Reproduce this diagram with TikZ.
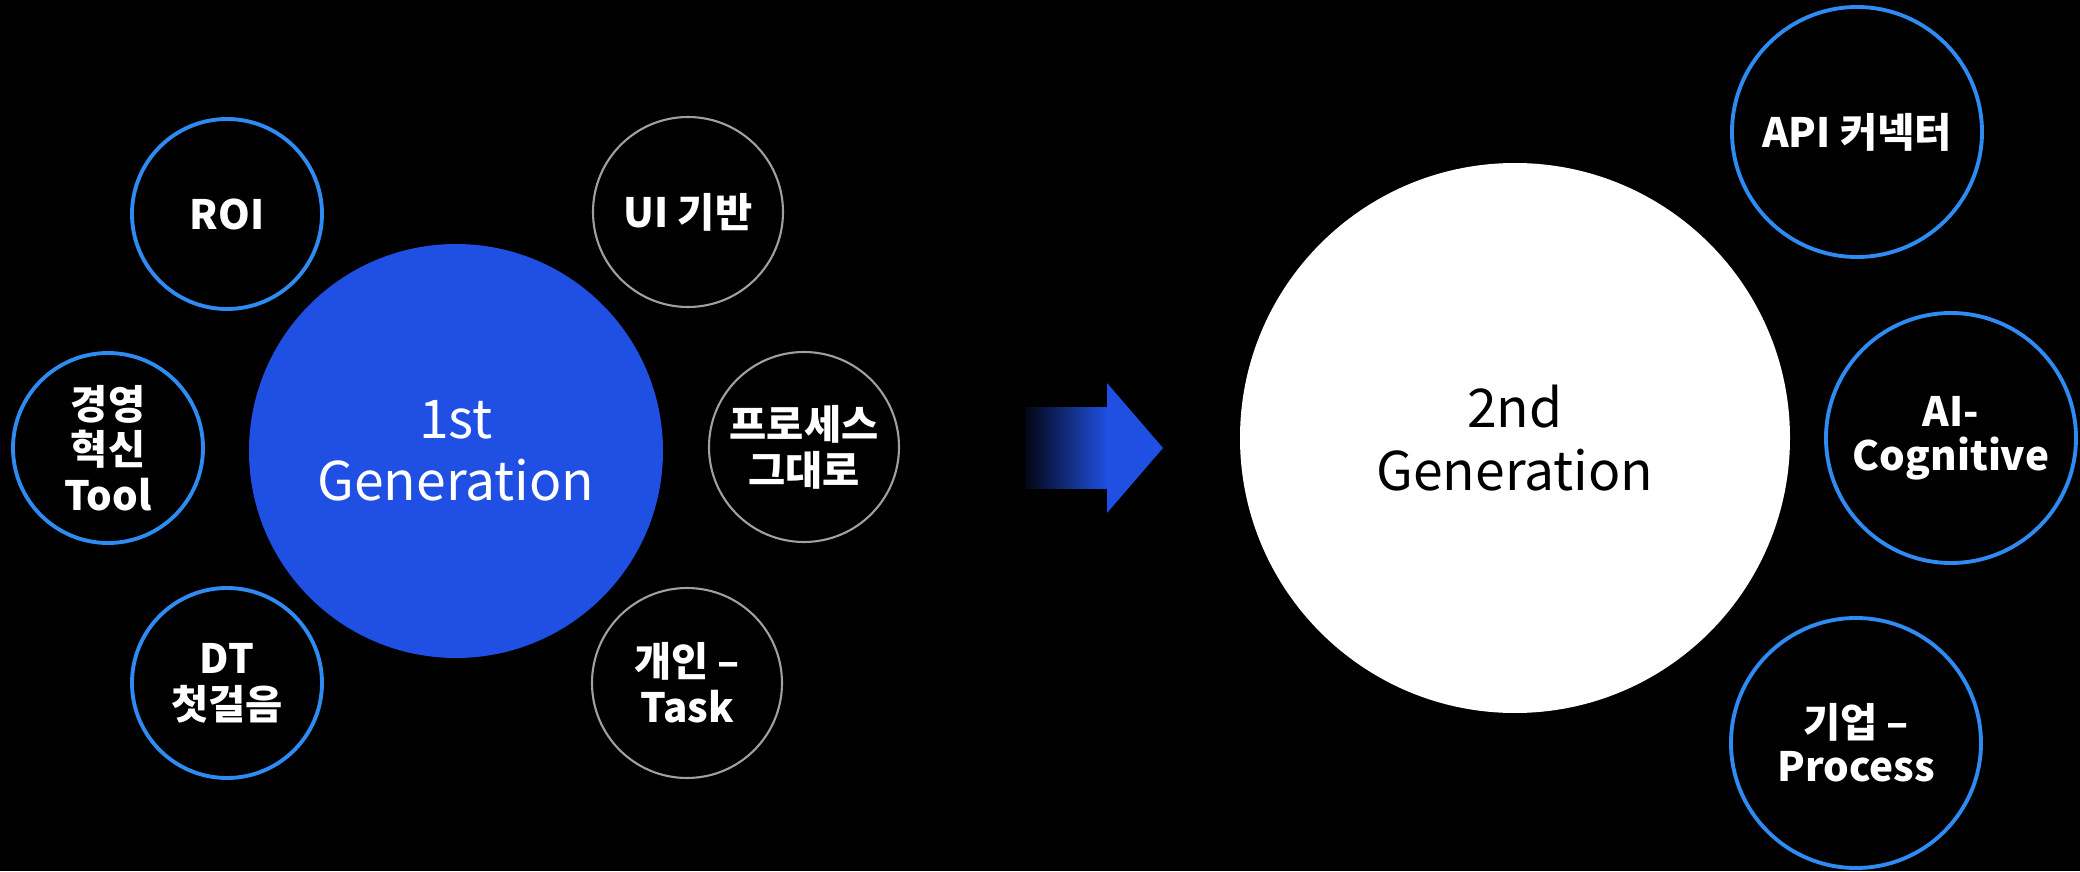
\documentclass[tikz,border=0pt]{standalone}
\usepackage{fontspec}
\setmainfont{Noto Sans CJK KR}
\definecolor{genblue}{HTML}{1F50E3}
\definecolor{ringblue}{HTML}{2E8BF2}
\definecolor{ringgray}{HTML}{A0A0A0}
\tikzset{
  smallring/.style={circle, draw=ringblue, line width=1.1pt, minimum size=1.9cm, inner sep=0pt,
    text=white, align=center, font=\fontsize{11.5}{13}\selectfont\bfseries},
  grayring/.style={smallring, draw=ringgray, line width=0.6pt},
  bigring/.style={smallring, minimum size=2.5cm, font=\fontsize{11.5}{12.5}\selectfont\bfseries},
  genbubble/.style={circle, inner sep=0pt, align=center, font=\fontsize{15.2}{17.7}\selectfont}
}
\begin{document}
\begin{tikzpicture}
%\draw[step=1cm,gray,very thin] (0,0) grid (20.8,8.71);
\fill[black] (0,0) rectangle (20.8,8.71);
\useasboundingbox (0,0) rectangle (20.8,8.71);
\node[genbubble, fill=genblue, text=white, minimum size=4.14cm] (first) at (4.56,4.20) {1st\\Generation};
\node[smallring] (roi) at (2.27,6.57) {ROI};
\node[smallring] (mgmt) at (1.08,4.23) {경영\\혁신\\Tool};
\node[smallring] (dt) at (2.27,1.88) {DT\\첫걸음};
\node[grayring] (ui) at (6.88,6.59) {UI 기반};
\node[grayring] (proc) at (8.04,4.24) {프로세스\\그대로};
\node[grayring] (task) at (6.87,1.88) {개인 –\\Task};
% arrow
\shade[left color=genblue!8!black, right color=genblue] (10.25,3.83) rectangle (11.08,4.63);
\fill[genblue] (11.07,4.88) -- (11.63,4.23) -- (11.07,3.58) -- cycle;
\node[genbubble, fill=white, text=black, minimum size=5.5cm] (second) at (15.15,4.33) {2nd\\Generation};
\node[bigring] (api) at (18.57,7.39) {API 커넥터};
\node[bigring] (ai) at (19.51,4.33) {AI-\\Cognitive};
\node[bigring] (corp) at (18.56,1.28) {기업 –\\Process};
\end{tikzpicture}
\end{document}
